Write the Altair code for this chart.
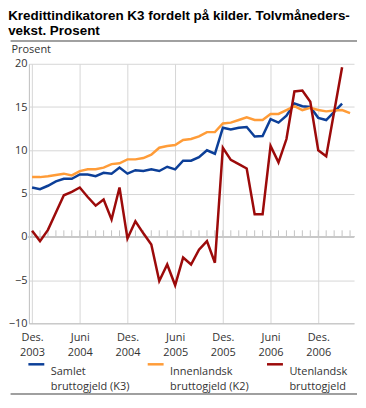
import altair as alt
import pandas as pd

months = ["2003-12",
          "2004-01", "2004-02", "2004-03", "2004-04", "2004-05", "2004-06",
          "2004-07", "2004-08", "2004-09", "2004-10", "2004-11", "2004-12",
          "2005-01", "2005-02", "2005-03", "2005-04", "2005-05", "2005-06",
          "2005-07", "2005-08", "2005-09", "2005-10", "2005-11", "2005-12",
          "2006-01", "2006-02", "2006-03", "2006-04", "2006-05", "2006-06",
          "2006-07", "2006-08", "2006-09", "2006-10", "2006-11", "2006-12",
          "2007-01", "2007-02", "2007-03", "2007-04"]

samlet = [5.7, 5.5, 5.9, 6.4, 6.7, 6.7, 7.2, 7.2, 7.0, 7.4, 7.3, 8.0, 7.3,
          7.7, 7.6, 7.8, 7.6, 8.1, 7.8, 8.8, 8.8, 9.2, 10.0, 9.6, 12.6,
          12.4, 12.6, 12.7, 11.6, 11.65, 13.6, 13.2, 14.0, 15.4, 15.1, 15.0, 13.75,
          13.5, None, 15.4, None]

innenlandsk = [6.9, 6.9, 7.0, 7.15, 7.3, 7.1, 7.6, 7.8, 7.8, 8.0, 8.4, 8.5, 8.95,
               8.95, 9.1, 9.5, 10.3, 10.5, 10.6, 11.2, 11.3, 11.6, 12.1, 12.1, 13.1,
               13.2, 13.5, 13.8, 13.5, 13.5, 14.2, 14.2, 14.65, 15.1, 14.65, 14.9, 14.65,
               14.5, 14.6, 14.65, 14.3]

utenlandsk = [0.7, -0.5, 0.8, 2.8, 4.8, 5.2, 5.7, 4.6, 3.6, 4.3, 2.0, 5.7, -0.2,
              1.8, 0.4, -0.9, -5.1, -3.2, -5.6, -2.4, -3.2, -1.5, -0.5, -3.0, 10.3,
              8.9, 8.4, 7.9, 2.6, 2.6, 10.5, 8.6, 11.3, 16.8, 16.9, 15.6, 10.0,
              9.3, None, 19.6, None]

series_names = ["Samlet|bruttogjeld (K3)",
                "Innenlandsk|bruttogjeld (K2)",
                "Utenlandsk|bruttogjeld"]
series_colors = ["#0c3f98", "#ff9c38", "#9c0a0a"]

tick_months = [0, 6, 12, 18, 24, 30, 36]
tick_labels = ["Des.|2003", "Juni|2004", "Des.|2004", "Juni|2005",
               "Des.|2005", "Juni|2006", "Des.|2006"]
y_ticks = [-10, -5, 0, 5, 10, 15, 20]

title_lines = ["Kredittindikatoren K3 fordelt på kilder. Tolvmåneders-",
               "vekst. Prosent"]

rows = []
for name, vals in zip(series_names, [samlet, innenlandsk, utenlandsk]):
    for i, v in enumerate(vals):
        if v is not None:
            rows.append({"m": i, "month": months[i], "serie": name, "v": v})
df = pd.DataFrame(rows)
minor = pd.DataFrame({"m": list(range(len(months)))})

W, H = 327, 261
FONT = "Open Sans"
TFONT = "Liberation Sans"

label_list = "[" + ",".join("'" + t + "'" for t in tick_labels) + "]"
x_label_expr = "split(" + label_list + "[datum.value / 6], '|')"

xscale = alt.Scale(domain=[-0.4, 40.5], nice=False, zero=False)
yscale = alt.Scale(domain=[-10, 20], nice=False)

x_axis = alt.Axis(values=tick_months, labelExpr=x_label_expr, title=None,
                  grid=True, gridColor="#d6d6d6", ticks=False,
                  domainColor="#bdbdbd", labelFont=FONT, labelFontSize=11,
                  labelColor="#333333", labelBaseline="top", labelPadding=8,
                  labelLineHeight=15, labelAlign="center")
y_axis = alt.Axis(values=y_ticks, title="Prosent", titleAngle=0,
                  titleAlign="left", titleBaseline="alphabetic",
                  titleX=-18, titleY=-11, titleFont=FONT, titleFontSize=11,
                  titleFontWeight="normal", titleColor="#333333",
                  grid=True, gridColor="#d6d6d6", ticks=False,
                  domainColor="#bdbdbd", labelFont=FONT, labelFontSize=11,
                  labelColor="#333333", labelPadding=2)

minor_ticks = alt.Chart(minor).mark_rule(color="#c4c4c4", strokeWidth=1).encode(
    x=alt.X("m:Q", scale=xscale, axis=x_axis),
    y=alt.datum(0, scale=yscale, axis=y_axis),
    y2=alt.datum(0.75),
)

zero_line = alt.Chart(minor).mark_rule(color="#c8c8c8", strokeWidth=1.5).encode(
    y=alt.datum(0),
)

lines = alt.Chart(df).mark_line(strokeWidth=2.5).encode(
    x=alt.X("m:Q", scale=xscale, axis=x_axis),
    y=alt.Y("v:Q", scale=yscale, axis=y_axis),
    color=alt.Color("serie:N",
                    scale=alt.Scale(domain=series_names, range=series_colors),
                    sort=series_names,
                    legend=alt.Legend(title=None, orient="none", legendX=-2,
                                      legendY=H + 39, direction="horizontal",
                                      columns=3, padding=0,
                                      symbolType="M-1,-0.94H1",
                                      symbolStrokeWidth=2.5, symbolSize=256,
                                      labelExpr="split(datum.label, '|')",
                                      labelFont=FONT, labelFontSize=11,
                                      labelColor="#333333",
                                      labelBaseline="middle", labelOffset=5,
                                      labelLimit=200, columnPadding=12)),
    detail="serie:N",
)

top_rule = alt.Chart(minor).mark_rule(color="#a0a0a0", strokeWidth=1).encode(
    x=alt.value(-18), x2=alt.value(W + 3), y=alt.value(-23))
bottom_rule = alt.Chart(minor).mark_rule(color="#a0a0a0", strokeWidth=1).encode(
    x=alt.value(-18), x2=alt.value(W + 3), y=alt.value(H + 71))

chart = alt.layer(minor_ticks, zero_line, lines, top_rule, bottom_rule).properties(
    width=W, height=H,
    title=alt.Title(title_lines, anchor="start", frame="bounds", font=TFONT,
                    fontSize=13.5, fontWeight="bold", color="#000000",
                    lineHeight=15, offset=3),
).configure(
    padding=0,
    view=alt.ViewConfig(stroke=None),
    style={"guide-label": {"lineHeight": 15}},
)

chart.save("out.html", embed_options={"renderer": "svg", "actions": False})
